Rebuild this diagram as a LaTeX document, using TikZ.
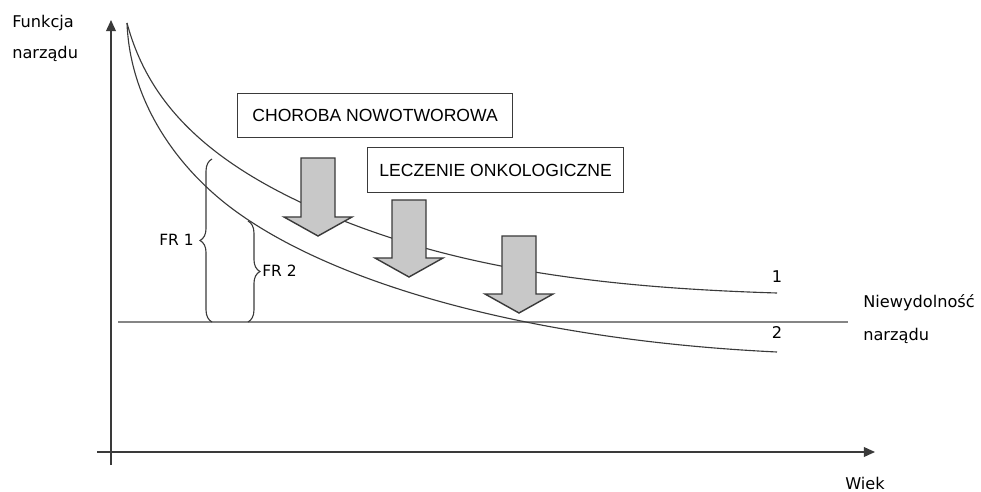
\documentclass[tikz,border=0pt]{standalone}
\usepackage{fontspec}
\setmainfont{DejaVu Sans}
\newfontfamily\boxfont{Liberation Sans}
\usepackage{tikz}
\usetikzlibrary{decorations.pathreplacing, arrows.meta}
\definecolor{linegray}{HTML}{3A3A3A}
\definecolor{limitgray}{HTML}{858585}
\definecolor{arrowfill}{HTML}{C8C8C8}
\tikzset{
    axis/.style={draw=linegray, line width=1.1pt, -{Triangle[length=8pt, width=7pt]}},
    curve/.style={draw=linegray, line width=0.8pt},
    limit/.style={draw=limitgray, line width=0.9pt},
    eventbox/.style={draw=linegray, line width=0.8pt, anchor=north west, inner sep=0pt,
        font=\boxfont\fontsize{12.5}{14}\selectfont},
    blockarrow/.style={fill=arrowfill, draw=linegray, line width=1pt, line join=miter},
    frbrace/.style={draw=linegray, line width=0.8pt, decorate, decoration={brace, amplitude=8.5pt}},
    graphlabel/.style={anchor=base west, inner sep=0pt, font=\fontsize{11.5}{13}\selectfont}
}

\begin{document}
\begin{tikzpicture}[x=0.025cm, y=-0.025cm]
        \useasboundingbox (0,0) rectangle (981,492);

        % axes
        \coordinate (ybot) at (111,465);
        \coordinate (ytop) at (111,20);
        \coordinate (xleft) at (97,452);
        \coordinate (xright) at (875,452);
        \draw[axis] (ybot) -- (ytop);
        \draw[axis] (xleft) -- (xright);
        \node[graphlabel] (funkcja) at (12,28) {Funkcja};
        \node[graphlabel] (narzad) at (12,59) {narządu};
        \node[graphlabel] (wiek) at (845,489) {Wiek};

        % organ failure level
        \coordinate (lim1) at (118,322);
        \coordinate (lim2) at (848,322);
        \draw[limit] (lim1) -- (lim2);
        \node[graphlabel] (niewyd) at (863,308) {Niewydolność};
        \node[graphlabel] (niewyd2) at (863,340) {narządu};

        % organ function curves
        \coordinate (start) at (127,23);
        \coordinate (mid1) at (300,202);
        \coordinate (end1) at (777,293);
        \coordinate (mid2) at (230,207);
        \coordinate (end2) at (777,352);
        \draw[curve] (start) .. controls (145,90) and (190,150) .. (mid1)
            .. controls (430,263) and (577,287) .. (end1);
        \draw[curve] (start) .. controls (130,100) and (175,165) .. (mid2)
            .. controls (330,283) and (527,340) .. (end2);
        \node[graphlabel, anchor=base] (c1) at (777,283) {1};
        \node[graphlabel, anchor=base] (c2) at (777,338) {2};

        % functional reserve
        \coordinate (fr1a) at (212,322);
        \coordinate (fr1b) at (212,159);
        \coordinate (fr2a) at (248,221);
        \coordinate (fr2b) at (248,322);
        \draw[frbrace] (fr1a) -- (fr1b);
        \draw[frbrace] (fr2a) -- (fr2b);
        \node[graphlabel, font=\fontsize{11}{13}\selectfont] (fr1) at (159,245) {FR 1};
        \node[graphlabel, font=\fontsize{11}{13}\selectfont] (fr2) at (262,277) {FR 2};

        % events
        \node[eventbox, minimum width=6.875cm, minimum height=1.1cm] (choroba) at (237,93) {CHOROBA NOWOTWOROWA};
        \node[eventbox, minimum width=6.4cm, minimum height=1.125cm] (leczenie) at (367,147) {LECZENIE ONKOLOGICZNE};
        \foreach \cx/\ytp/\yhd/\ytip in {318/158/217/236, 409/200/258/277, 519/236/294/313}
            \draw[blockarrow] (\cx-17,\ytp) -- (\cx+17,\ytp) -- (\cx+17,\yhd) -- (\cx+34,\yhd)
                -- (\cx,\ytip) -- (\cx-34,\yhd) -- (\cx-17,\yhd) -- cycle;
    \end{tikzpicture}
\end{document}
